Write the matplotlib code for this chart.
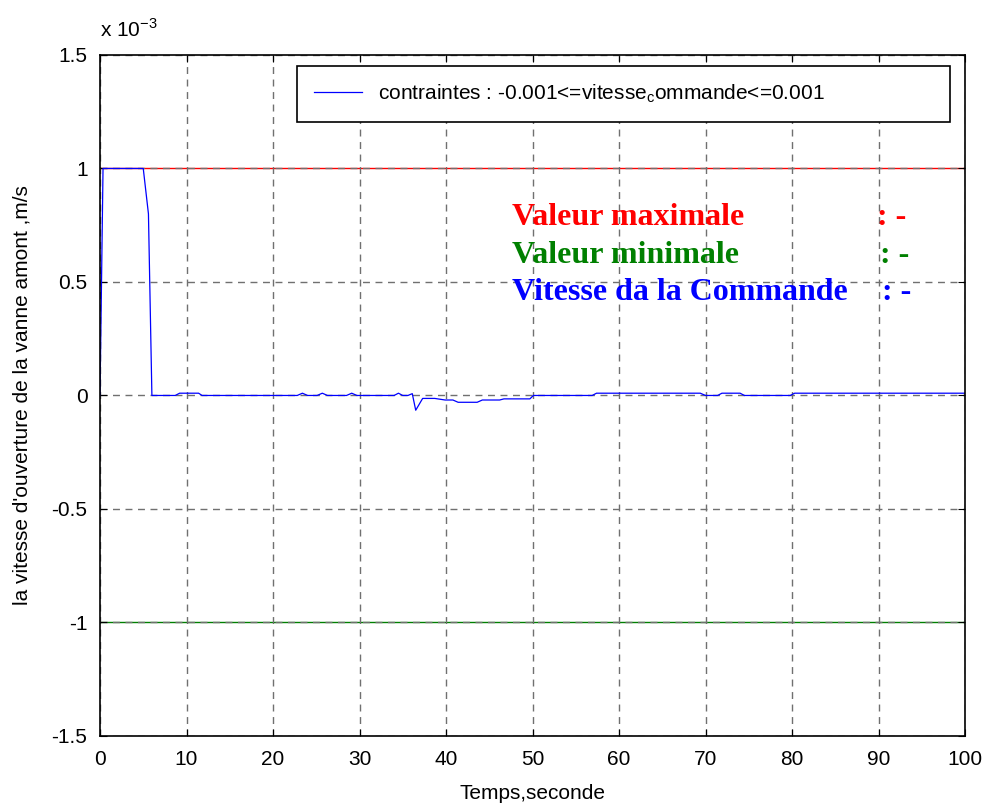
import numpy as np
import matplotlib.pyplot as plt

plt.rcParams['font.family'] = ['Liberation Sans', 'DejaVu Sans']

# temps (s) et vitesse de commande (x 1e-3 m/s)
temps = [0, 0.35, 5.0, 5.6, 6.0, 8.7, 9.2, 11.4, 11.8, 22.8, 23.4, 24.0,
         25.1, 25.7, 26.3, 28.5, 29.1, 29.7, 34.0, 34.5, 35.0, 35.6, 36.1,
         36.5, 37.3, 38.7, 39.9, 40.8, 41.4, 43.6, 44.2, 46.2, 46.7, 49.7,
         50.1, 56.9, 57.4, 69.4, 70.0, 71.4, 71.9, 74.0, 74.5, 79.8, 80.3, 100]
vitesse = [0, 1, 1, 0.8, 0, 0, 0.01, 0.01, 0, 0, 0.01, 0,
           0, 0.01, 0, 0, 0.01, 0, 0, 0.01, 0, 0, 0.008,
           -0.065, -0.013, -0.013, -0.02, -0.02, -0.03, -0.03, -0.02, -0.02, -0.015, -0.015,
           0, 0, 0.01, 0.01, 0, 0, 0.01, 0.01, 0, 0, 0.01, 0.01]
v_max = 1
v_min = -1

xticks = [0, 10, 20, 30, 40, 50, 60, 70, 80, 90, 100]
yticks = [-1.5, -1, -0.5, 0, 0.5, 1, 1.5]
ytick_labels = ['-1.5', '-1', '-0.5', '0', '0.5', '1', '1.5']


def main():
    fig = plt.figure(figsize=(9.91, 8.07), dpi=100)
    ax = fig.add_axes([100 / 991, 0.0880, 865 / 991, 0.8439])

    ax.plot(temps, vitesse, color='blue', lw=0.9,
            label=r'contraintes : -0.001<=vitesse$_\mathregular{c}$ommande<=0.001')
    ax.axhline(v_max, color='red', lw=1.0, zorder=1)
    ax.axhline(v_min, color='green', lw=1.0, zorder=1)

    ax.set_xlim(0, 100)
    ax.set_ylim(-1.5, 1.5)
    ax.set_xticks(xticks)
    ax.set_xticklabels([str(t) for t in xticks])
    ax.set_yticks(yticks)
    ax.set_yticklabels(ytick_labels)
    ax.tick_params(direction='in', labelsize=15, top=True, right=True, length=5)
    ax.tick_params(axis='x', pad=10)
    ax.tick_params(axis='y', pad=9)
    ax.grid(True, color='#707070', linestyle=(0, (5, 4)), lw=1.0)
    for s in ax.spines.values():
        s.set_linewidth(1.2)

    ax.set_xlabel('Temps,seconde', fontsize=15, labelpad=11)
    ax.set_ylabel("la vitesse d'ouverture de la vanne amont ,m/s", fontsize=15)
    ax.yaxis.set_label_coords(-0.079, 0.5)
    fig.text(100 / 991, 1 - 37 / 807, r'x 10$^{\mathregular{-3}}$', fontsize=15, va='baseline')

    leg = ax.legend(loc='upper left', bbox_to_anchor=(0.2277, 0.903, 0.755, 0.081),
                    mode='expand', fontsize=15, fancybox=False, framealpha=1,
                    edgecolor='black', handlelength=2.3, borderpad=0.8,
                    borderaxespad=0)
    leg.get_frame().set_linewidth(1.2)

    serif = dict(family='Liberation Serif', weight='bold', fontsize=23, va='baseline')
    fig.text(512 / 991, 1 - 225 / 807, 'Valeur maximale', color='red', **serif)
    fig.text(877 / 991, 1 - 225 / 807, ': -', color='red', **serif)
    fig.text(512 / 991, 1 - 263 / 807, 'Valeur minimale', color='green', **serif)
    fig.text(880 / 991, 1 - 263 / 807, ': -', color='green', **serif)
    fig.text(512 / 991, 1 - 300 / 807, 'Vitesse da la Commande', color='blue', **serif)
    fig.text(882 / 991, 1 - 300 / 807, ': -', color='blue', **serif)

    fig.savefig('out.png', dpi=100)


if __name__ == '__main__':
    main()
